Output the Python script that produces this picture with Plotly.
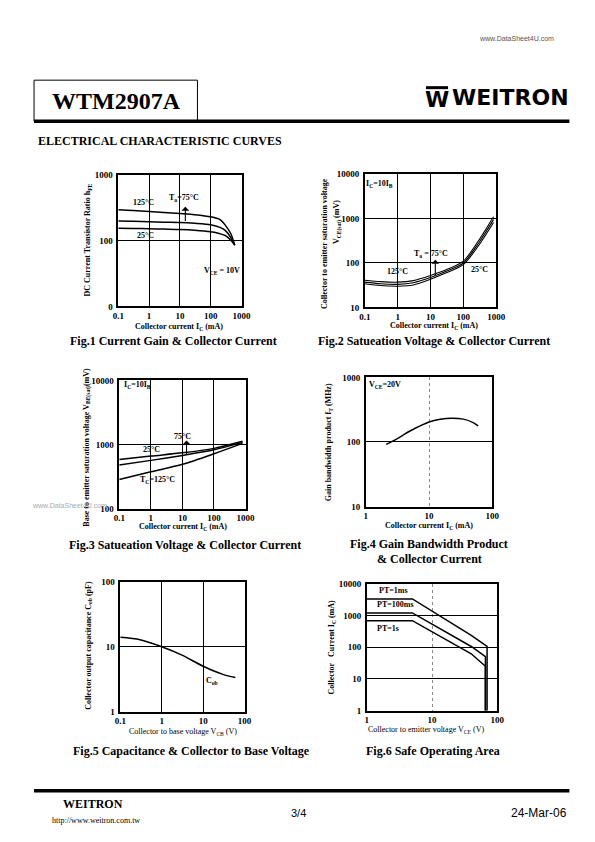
import numpy as np
import plotly.graph_objects as go

# figure size; positions below are given in page pixels of the reference and
# converted with an empirically measured render offset/scale
W, H = 579, 826
AX, SX = 13.0, 0.97
AY, SY = 12.9, 0.987

# ---------------- data ----------------
# Fig.1 DC current gain vs collector current
f1_ic = [0.1, 0.3, 1, 3, 10, 30, 100, 200, 300, 450, 600]
f1_h125 = [297, 290, 280, 270, 260, 250, 232, 210, 172, 128, 86]
f1_h75 = [201, 198, 195, 192, 190, 185, 176, 160, 143, 112, 86]
f1_h25 = [155, 154, 153, 151, 149, 145, 137, 128, 120, 102, 86]

# Fig.2 VCE(sat) vs IC
f2_ic = [0.1, 0.3, 1, 3, 10, 30, 100, 300, 830]
f2_v125 = [41, 38, 37, 40, 52, 70, 110, 330, 1100]
f2_v75 = [37, 34, 33, 36, 47, 65, 100, 290, 950]
f2_v25 = [34, 31, 30, 32, 43, 60, 92, 255, 820]

# Fig.3 VBE(sat) vs IC
f3_ic = [0.1, 1, 10, 100, 800]
f3_v25 = [583, 660, 740, 870, 1120]
f3_v75 = [480, 565, 675, 826, 1080]
f3_v125 = [284, 375, 490, 716, 1040]

# Fig.4 fT vs IC
f4_ic = [2.1, 3, 5, 10, 15, 23, 35, 50, 60]
f4_ft = [92, 110, 148, 204, 225, 234, 226, 200, 178]

# Fig.5 Cob vs VCB
f5_vcb = [0.1, 0.3, 1, 3, 10, 30, 60]
f5_cob = [13.9, 12.8, 10, 7.5, 5.0, 3.75, 3.35]

# Fig.6 Safe operating area
f6_v1ms = [1, 5, 40, 70, 70]
f6_i1ms = [3300, 3300, 234, 105, 1]
f6_v100ms = [1, 5, 40, 66, 66]
f6_i100ms = [1200, 1200, 105, 50, 1]
f6_v1s = [1, 5, 40, 66, 66]
f6_i1s = [680, 680, 62, 25, 1]

SERIF = "Liberation Serif"
SANS = "Liberation Sans"


def pxx(x):
    return ((x - AX) / SX) / W


def pxy(y):
    return 1 - ((y - AY) / SY) / H


fig = go.Figure()

panels = [
    dict(box=(117, 240, 175, 306), xr=[-1, 3], yr=[1, 3],
         xt=[0.1, 1, 10, 100, 1000], xl=["0.1", "1", "10", "100", "1000"],
         yt=[10, 100, 1000], yl=["0", "100", "1000"], xdot=False),
    dict(box=(363, 494, 174, 307), xr=[-1, 3], yr=[1, 4],
         xt=[0.1, 1, 10, 100, 1000], xl=["0.1", "1", "10", "100", "1000"],
         yt=[10, 100, 1000, 10000], yl=["10", "100", "1000", "10000"], xdot=False),
    dict(box=(118, 244, 380, 508), xr=[-1, 3], yr=[2, 4],
         xt=[0.1, 1, 10, 100, 1000], xl=["0.1", "1", "10", "100", "1000"],
         yt=[100, 1000, 10000], yl=["100", "1000", "10000"], xdot=False),
    dict(box=(364, 490, 377, 506), xr=[0, 2], yr=[1, 3],
         xt=[1, 10, 100], xl=["1", "10", "100"],
         yt=[10, 100, 1000], yl=["10", "100", "1000"], xdot=True),
    dict(box=(119, 243, 581, 711), xr=[-1, 2], yr=[0, 2],
         xt=[0.1, 1, 10, 100], xl=["0.1", "1", "10", "100"],
         yt=[1, 10, 100], yl=["1", "10", "100"], xdot=False),
    dict(box=(365, 495, 583, 710), xr=[0, 2], yr=[0, 4],
         xt=[1, 10, 100], xl=["1", "10", "100"],
         yt=[1, 10, 100, 1000, 10000], yl=["1", "10", "100", "1000", "10000"], xdot=True),
]

layout_axes = {}
for i, p in enumerate(panels, start=1):
    l, r, t, b = p["box"]
    xs = "xaxis" if i == 1 else f"xaxis{i}"
    ys = "yaxis" if i == 1 else f"yaxis{i}"
    yname = "y" if i == 1 else f"y{i}"
    xname = "x" if i == 1 else f"x{i}"
    common = dict(type="log", showline=True, mirror=True, linecolor="black", linewidth=1.5,
                  ticks="", zeroline=False, fixedrange=True)
    layout_axes[xs] = dict(common, domain=[pxx(l), pxx(r)], range=p["xr"], anchor=yname,
                           tickvals=p["xt"], ticktext=[f"<b>{s}</b>" for s in p["xl"]],
                           tickfont=dict(family=SERIF, size=9, color="black"),
                           showgrid=True,
                           gridcolor="#888888" if p["xdot"] else "black",
                           griddash="dot" if p["xdot"] else "solid",
                           gridwidth=1 if p["xdot"] else 1.4, ticklabelstandoff=0)
    layout_axes[ys] = dict(common, domain=[pxy(b), pxy(t)], range=p["yr"], anchor=xname,
                           tickvals=p["yt"], ticktext=[f"<b>{s}</b>" for s in p["yl"]],
                           tickfont=dict(family=SERIF, size=9, color="black"),
                           showgrid=True, gridcolor="black", gridwidth=1.4, ticklabelstandoff=2)


def add(x, y, i, spline=True, width=1.5):
    ln = dict(color="black", width=width)
    if spline:
        ln.update(shape="spline", smoothing=0.8)
    fig.add_trace(go.Scatter(x=x, y=y, mode="lines", line=ln,
                             xaxis="x" if i == 1 else f"x{i}", yaxis="y" if i == 1 else f"y{i}",
                             showlegend=False, hoverinfo="skip"))


add(f1_ic, f1_h125, 1); add(f1_ic, f1_h75, 1); add(f1_ic, f1_h25, 1)
add(f2_ic, f2_v125, 2, width=1.1); add(f2_ic, f2_v75, 2, width=1.1); add(f2_ic, f2_v25, 2, width=1.1)
add(f3_ic, f3_v25, 3); add(f3_ic, f3_v75, 3); add(f3_ic, f3_v125, 3)
add(f4_ic, f4_ft, 4)
add(f5_vcb, f5_cob, 5)
add(f6_v1ms, f6_i1ms, 6, False); add(f6_v100ms, f6_i100ms, 6, False); add(f6_v1s, f6_i1s, 6, False)

ann = []
shapes = []


def text(x, y, s, size=9, family=SERIF, color="black", angle=0, xanchor="center", yanchor="middle"):
    ann.append(dict(x=pxx(x), y=pxy(y), xref="paper", yref="paper", text=s, showarrow=False,
                    font=dict(family=family, size=size, color=color), textangle=angle,
                    xanchor=xanchor, yanchor=yanchor))


def arrow(i, x, y0, y1):
    xr = "x" if i == 1 else f"x{i}"
    yr = "y" if i == 1 else f"y{i}"
    ann.append(dict(x=np.log10(x), y=np.log10(y1), ax=np.log10(x), ay=np.log10(y0),
                    xref=xr, yref=yr, axref=xr, ayref=yr, text="", showarrow=True,
                    arrowhead=1, arrowsize=1.2, arrowwidth=1.1, arrowcolor="black"))


def rect(x0, y0, x1, y1, fill=None, lw=1):
    shapes.append(dict(type="rect", xref="paper", yref="paper", x0=pxx(x0), x1=pxx(x1),
                       y0=pxy(y1), y1=pxy(y0), fillcolor=fill,
                       line=dict(color="black", width=lw)))


def hline(x0, x1, y, lw):
    shapes.append(dict(type="line", xref="paper", yref="paper", x0=pxx(x0), x1=pxx(x1),
                       y0=pxy(y), y1=pxy(y), line=dict(color="black", width=lw)))


# header
text(514, 38, "www.DataSheet4U.com", size=7, family=SANS, color="#555555")
rect(33, 80, 196, 121)
text(115, 101, "<b>WTM2907A</b>", size=24)
hline(33, 567, 121, 3.5)
# logo
text(435, 99, "<b>W</b>", size=22, family="DejaVu Sans")
rect(424, 86, 446, 89, fill="black", lw=0)
text(508, 97, "<b>WEITRON</b>", size=22, family="DejaVu Sans")
text(35, 141, "<b>ELECTRICAL CHARACTERISTIC CURVES</b>", size=12, xanchor="left")

# Fig.1
text(87, 240, "<b>DC Current Transistor Ratio h<sub>FE</sub></b>", size=8, angle=-90)
text(178, 327, "<b>Collector current I<sub>C</sub> (mA)</b>", size=8)
text(172, 341, "<b>Fig.1 Current Gain & Collector Current</b>", size=12)
text(142, 202, "<b>125°C</b>", size=8)
text(183, 198, "<b>T<sub>a</sub>=75°C</b>", size=8)
text(144, 235, "<b>25°C</b>", size=8)
text(220, 271, "<b>V<sub>CE</sub> = 10V</b>", size=8)
arrow(1, 15, 190, 330)

# Fig.2
text(323, 243, "<b>Collector to emitter saturation voltage</b>", size=8, angle=-90)
text(336, 222, "<b>V<sub>CE(sat)</sub> (mV)</b>", size=8, angle=-90)
text(432, 326, "<b>Collector current I<sub>C</sub> (mA)</b>", size=8)
text(432, 341, "<b>Fig.2 Satueation Voltage & Collector Current</b>", size=12)
text(378, 184, "<b>I<sub>C</sub>=10I<sub>B</sub></b>", size=8)
text(429, 254, "<b>T<sub>a</sub> = 75°C</b>", size=8)
text(396, 271, "<b>125°C</b>", size=8)
text(477, 269, "<b>25°C</b>", size=8)
arrow(2, 14, 47, 118)

# Fig.3
text(86, 447, "<b>Base to emitter saturation voltage V<sub>BE(sat)</sub>(mV)</b>", size=8, angle=-90)
text(182, 526, "<b>Collector current I<sub>C</sub> (mA)</b>", size=8)
text(184, 544, "<b>Fig.3 Satueation Voltage & Collector Current</b>", size=12)
text(136, 385, "<b>I<sub>C</sub>=10I<sub>B</sub></b>", size=8)
text(181, 436, "<b>75°C</b>", size=8)
text(150, 449, "<b>25°C</b>", size=8)
text(156, 479, "<b>T<sub>C</sub>=125°C</b>", size=8)
arrow(3, 13.5, 675, 1150)
text(68, 505, "www.DataSheet4U.com", size=7, family=SANS, color="#aaaaaa")

# Fig.4
text(328, 442, "<b>Gain bandwidth product f<sub>T</sub> (MHz)</b>", size=8, angle=-90)
text(427, 525, "<b>Collector current I<sub>C</sub> (mA)</b>", size=8)
text(427, 543, "<b>Fig.4 Gain Bandwidth Product</b>", size=12)
text(427, 558, "<b>& Collector Current</b>", size=12)
text(383, 385, "<b>V<sub>CE</sub>=20V</b>", size=8)

# Fig.5
text(87, 645, "<b>Collector output capacitance C<sub>ob</sub> (pF)</b>", size=8, angle=-90)
text(182, 731, "Collector to base voltage V<sub>CB</sub> (V)", size=8)
text(190, 750, "<b>Fig.5 Capacitance & Collector to Base Voltage</b>", size=12)
text(211, 680, "<b>C<sub>ob</sub></b>", size=8)

# Fig.6
text(330, 646, "<b>Collector   Current I<sub>C</sub> (mA)</b>", size=8, angle=-90)
text(424, 729, "Collector to emitter voltage V<sub>CE</sub> (V)", size=8)
text(431, 750, "<b>Fig.6 Safe Operating Area</b>", size=12)
text(375, 590, "<b>PT=1ms</b>", size=8, xanchor="left")
text(373, 604, "<b>PT=100ms</b>", size=8, xanchor="left")
text(373, 628, "<b>PT=1s</b>", size=8, xanchor="left")

# footer
hline(33, 567, 790, 3.5)
text(92, 803, "<b>WEITRON</b>", size=12)
text(95, 820, "http://www.weitron.com.tw", size=8)
text(297, 812, "3/4", size=11, family=SANS)
text(537, 812, "24-Mar-06", size=12, family=SANS)

fig.update_layout(width=W, height=H, margin=dict(l=0, r=0, t=0, b=0),
                  paper_bgcolor="white", plot_bgcolor="white", showlegend=False,
                  annotations=ann, shapes=shapes, **layout_axes)

fig.write_html("out.html")
